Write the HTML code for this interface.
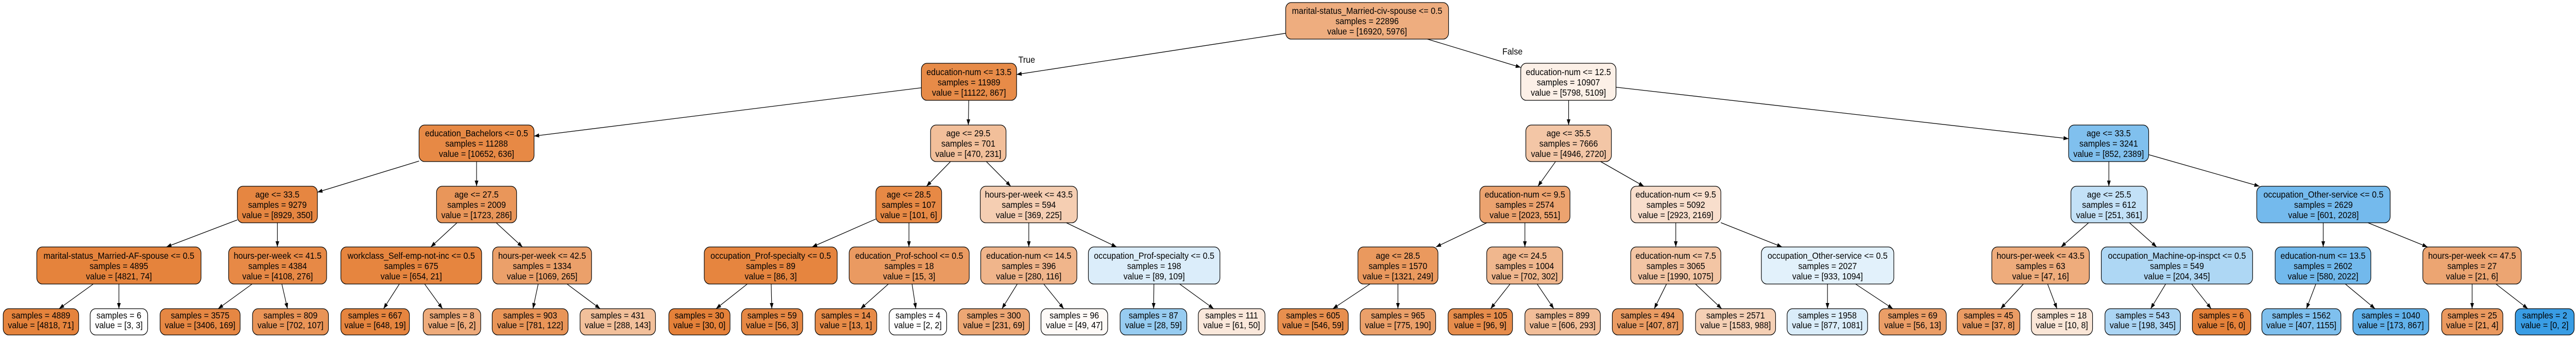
<!DOCTYPE html>
<html><head><meta charset="utf-8"><style>
html,body{margin:0;padding:0;background:#fff;width:100%;height:100%;overflow:hidden;}
svg{display:block;position:fixed;left:0;top:0;width:100vw;height:100vh;}
text{font-family:"Liberation Sans",Arial,sans-serif;font-size:18px;fill:#000;text-anchor:middle;}
rect{stroke:#000;stroke-width:1.3;}
line{stroke:#000;stroke-width:1.3;}
</style></head><body>
<svg viewBox="0 0 5600 655" preserveAspectRatio="none" xmlns="http://www.w3.org/2000/svg">
<defs><marker id="a" markerWidth="12" markerHeight="10" refX="11" refY="4" orient="auto" markerUnits="userSpaceOnUse"><path d="M0,0 L11,4 L0,8 z" fill="#000"/></marker></defs>
<g marker-end="url(#a)">
<line x1="2795" y1="64.7" x2="2210" y2="144.8"/>
<line x1="3103" y1="76" x2="3306" y2="131"/>
<line x1="2003" y1="170.6" x2="1161" y2="264.5"/>
<line x1="2106" y1="195" x2="2105" y2="243"/>
<line x1="3410" y1="195" x2="3410" y2="243"/>
<line x1="3513" y1="169.5" x2="4497" y2="269.6"/>
<line x1="911" y1="313" x2="690" y2="373.6"/>
<line x1="1036" y1="314" x2="1036" y2="362"/>
<line x1="2066.4" y1="314" x2="2014.1" y2="362"/>
<line x1="2144.2" y1="314" x2="2197.3" y2="362"/>
<line x1="3381.7" y1="314" x2="3343.3" y2="362"/>
<line x1="3479.5" y1="314" x2="3573.6" y2="362"/>
<line x1="4584.5" y1="314" x2="4584.5" y2="362"/>
<line x1="4671" y1="300.6" x2="4911.8" y2="362"/>
<line x1="516" y1="427.4" x2="361.7" y2="480"/>
<line x1="603" y1="433" x2="603" y2="480"/>
<line x1="993.5" y1="433" x2="936.5" y2="480"/>
<line x1="1078.7" y1="433" x2="1135.8" y2="480"/>
<line x1="1904" y1="425.7" x2="1765.4" y2="480"/>
<line x1="1976" y1="433" x2="1976" y2="480"/>
<line x1="2236.5" y1="433" x2="2236.5" y2="480"/>
<line x1="2318.1" y1="433" x2="2427.4" y2="480"/>
<line x1="3232.3" y1="433" x2="3121.7" y2="480"/>
<line x1="3315" y1="433" x2="3315" y2="480"/>
<line x1="3643" y1="433" x2="3643" y2="480"/>
<line x1="3741" y1="432.7" x2="3874.1" y2="480"/>
<line x1="4540.4" y1="433" x2="4480.6" y2="480"/>
<line x1="4629.2" y1="433" x2="4688.3" y2="480"/>
<line x1="5050.5" y1="433" x2="5050.5" y2="480"/>
<line x1="5147.8" y1="433" x2="5277.2" y2="480"/>
<line x1="202.8" y1="552" x2="128.5" y2="600"/>
<line x1="258.5" y1="552" x2="258.5" y2="600"/>
<line x1="548.1" y1="552" x2="474.2" y2="600"/>
<line x1="612.7" y1="552" x2="625" y2="600"/>
<line x1="868.2" y1="552" x2="833.8" y2="600"/>
<line x1="923.1" y1="552" x2="961.9" y2="600"/>
<line x1="1170" y1="552" x2="1158.6" y2="600"/>
<line x1="1232.6" y1="552" x2="1304.7" y2="600"/>
<line x1="1624.5" y1="552" x2="1556.6" y2="600"/>
<line x1="1676.5" y1="552" x2="1677.8" y2="600"/>
<line x1="1931.3" y1="552" x2="1871" y2="600"/>
<line x1="1982.7" y1="552" x2="1991" y2="600"/>
<line x1="2211.5" y1="552" x2="2178.2" y2="600"/>
<line x1="2269" y1="552" x2="2312.4" y2="600"/>
<line x1="2508.5" y1="552" x2="2507.8" y2="600"/>
<line x1="2564.4" y1="552" x2="2638.3" y2="600"/>
<line x1="2978.3" y1="552" x2="2897.5" y2="600"/>
<line x1="3039" y1="552" x2="3039" y2="600"/>
<line x1="3282.8" y1="552" x2="3240.5" y2="600"/>
<line x1="3341.6" y1="552" x2="3377.8" y2="600"/>
<line x1="3622.9" y1="552" x2="3596.2" y2="600"/>
<line x1="3685.7" y1="552" x2="3742.7" y2="600"/>
<line x1="3972.8" y1="552" x2="3972.8" y2="600"/>
<line x1="4033.8" y1="552" x2="4114.9" y2="600"/>
<line x1="4398.8" y1="552" x2="4349.3" y2="600"/>
<line x1="4451.3" y1="552" x2="4471.7" y2="600"/>
<line x1="4708" y1="552" x2="4675.4" y2="600"/>
<line x1="4764.4" y1="552" x2="4806.9" y2="600"/>
<line x1="5034.5" y1="552" x2="5014" y2="600"/>
<line x1="5098.5" y1="552" x2="5163.1" y2="600"/>
<line x1="5374.2" y1="552" x2="5374.2" y2="600"/>
<line x1="5426" y1="552" x2="5495.2" y2="600"/>
</g>
<text x="2232" y="122">True</text>
<text x="3288" y="106">False</text>

<rect x="2795" y="5" width="354" height="71" rx="12" fill="#eead7f"/>
<text x="2972" y="27">marital-status_Married-civ-spouse &lt;= 0.5</text><text x="2972" y="47">samples = 22896</text><text x="2972" y="67">value = [16920, 5976]</text>
<rect x="2003" y="123" width="207" height="72" rx="12" fill="#e78b48"/>
<text x="2106.5" y="146">education-num &lt;= 13.5</text><text x="2106.5" y="166">samples = 11989</text><text x="2106.5" y="186">value = [11122, 867]</text>
<rect x="3306" y="123" width="207" height="72" rx="12" fill="#fcf0e7"/>
<text x="3409.5" y="146">education-num &lt;= 12.5</text><text x="3409.5" y="166">samples = 10907</text><text x="3409.5" y="186">value = [5798, 5109]</text>
<rect x="911" y="243" width="250" height="71" rx="12" fill="#e78945"/>
<text x="1036" y="265">education_Bachelors &lt;= 0.5</text><text x="1036" y="285">samples = 11288</text><text x="1036" y="305">value = [10652, 636]</text>
<rect x="2023" y="243" width="164" height="71" rx="12" fill="#f2bf9a"/>
<text x="2105" y="265">age &lt;= 29.5</text><text x="2105" y="285">samples = 701</text><text x="2105" y="305">value = [470, 231]</text>
<rect x="3317" y="243" width="186" height="71" rx="12" fill="#f3c6a6"/>
<text x="3410" y="265">age &lt;= 35.5</text><text x="3410" y="285">samples = 7666</text><text x="3410" y="305">value = [4946, 2720]</text>
<rect x="4497" y="243" width="174" height="71" rx="12" fill="#80c0ee"/>
<text x="4584" y="265">age &lt;= 33.5</text><text x="4584" y="285">samples = 3241</text><text x="4584" y="305">value = [852, 2389]</text>
<rect x="516" y="362" width="174" height="71" rx="12" fill="#e68641"/>
<text x="603" y="384">age &lt;= 33.5</text><text x="603" y="404">samples = 9279</text><text x="603" y="424">value = [8929, 350]</text>
<rect x="949" y="362" width="174" height="71" rx="12" fill="#e9965a"/>
<text x="1036" y="384">age &lt;= 27.5</text><text x="1036" y="404">samples = 2009</text><text x="1036" y="424">value = [1723, 286]</text>
<rect x="1904" y="362" width="143" height="71" rx="12" fill="#e78945"/>
<text x="1975.5" y="384">age &lt;= 28.5</text><text x="1975.5" y="404">samples = 107</text><text x="1975.5" y="424">value = [101, 6]</text>
<rect x="2131" y="362" width="211" height="71" rx="12" fill="#f5ceb2"/>
<text x="2236.5" y="384">hours-per-week &lt;= 43.5</text><text x="2236.5" y="404">samples = 594</text><text x="2236.5" y="424">value = [369, 225]</text>
<rect x="3217" y="362" width="196" height="71" rx="12" fill="#eca36f"/>
<text x="3315" y="384">education-num &lt;= 9.5</text><text x="3315" y="404">samples = 2574</text><text x="3315" y="424">value = [2023, 551]</text>
<rect x="3545" y="362" width="196" height="71" rx="12" fill="#f8decc"/>
<text x="3643" y="384">education-num &lt;= 9.5</text><text x="3643" y="404">samples = 5092</text><text x="3643" y="424">value = [2923, 2169]</text>
<rect x="4502" y="362" width="166" height="71" rx="12" fill="#c3e1f7"/>
<text x="4585" y="384">age &lt;= 25.5</text><text x="4585" y="404">samples = 612</text><text x="4585" y="424">value = [251, 361]</text>
<rect x="4906" y="362" width="290" height="71" rx="12" fill="#74baed"/>
<text x="5051" y="384">occupation_Other-service &lt;= 0.5</text><text x="5051" y="404">samples = 2629</text><text x="5051" y="424">value = [601, 2028]</text>
<rect x="80" y="480" width="357" height="72" rx="12" fill="#e5833c"/>
<text x="258.5" y="503">marital-status_Married-AF-spouse &lt;= 0.5</text><text x="258.5" y="523">samples = 4895</text><text x="258.5" y="543">value = [4821, 74]</text>
<rect x="497" y="480" width="213" height="72" rx="12" fill="#e78946"/>
<text x="603.5" y="503">hours-per-week &lt;= 41.5</text><text x="603.5" y="523">samples = 4384</text><text x="603.5" y="543">value = [4108, 276]</text>
<rect x="741" y="480" width="306" height="72" rx="12" fill="#e6853f"/>
<text x="894" y="503">workclass_Self-emp-not-inc &lt;= 0.5</text><text x="894" y="523">samples = 675</text><text x="894" y="543">value = [654, 21]</text>
<rect x="1071" y="480" width="215" height="72" rx="12" fill="#eba06a"/>
<text x="1178.5" y="503">hours-per-week &lt;= 42.5</text><text x="1178.5" y="523">samples = 1334</text><text x="1178.5" y="543">value = [1069, 265]</text>
<rect x="1531" y="480" width="289" height="72" rx="12" fill="#e6853f"/>
<text x="1675.5" y="503">occupation_Prof-specialty &lt;= 0.5</text><text x="1675.5" y="523">samples = 89</text><text x="1675.5" y="543">value = [86, 3]</text>
<rect x="1846" y="480" width="261" height="72" rx="12" fill="#ea9a61"/>
<text x="1976.5" y="503">education_Prof-school &lt;= 0.5</text><text x="1976.5" y="523">samples = 18</text><text x="1976.5" y="543">value = [15, 3]</text>
<rect x="2132" y="480" width="209" height="72" rx="12" fill="#f0b58b"/>
<text x="2236.5" y="503">education-num &lt;= 14.5</text><text x="2236.5" y="523">samples = 396</text><text x="2236.5" y="543">value = [280, 116]</text>
<rect x="2366" y="480" width="286" height="72" rx="12" fill="#dbedfa"/>
<text x="2509" y="503">occupation_Prof-specialty &lt;= 0.5</text><text x="2509" y="523">samples = 198</text><text x="2509" y="543">value = [89, 109]</text>
<rect x="2952" y="480" width="174" height="72" rx="12" fill="#ea995e"/>
<text x="3039" y="503">age &lt;= 28.5</text><text x="3039" y="523">samples = 1570</text><text x="3039" y="543">value = [1321, 249]</text>
<rect x="3232" y="480" width="165" height="72" rx="12" fill="#f0b78e"/>
<text x="3314.5" y="503">age &lt;= 24.5</text><text x="3314.5" y="523">samples = 1004</text><text x="3314.5" y="543">value = [702, 302]</text>
<rect x="3545" y="480" width="196" height="72" rx="12" fill="#f3c5a4"/>
<text x="3643" y="503">education-num &lt;= 7.5</text><text x="3643" y="523">samples = 3065</text><text x="3643" y="543">value = [1990, 1075]</text>
<rect x="3829" y="480" width="288" height="72" rx="12" fill="#e2f1fb"/>
<text x="3973" y="503">occupation_Other-service &lt;= 0.5</text><text x="3973" y="523">samples = 2027</text><text x="3973" y="543">value = [933, 1094]</text>
<rect x="4330" y="480" width="212" height="72" rx="12" fill="#eeac7c"/>
<text x="4436" y="503">hours-per-week &lt;= 43.5</text><text x="4436" y="523">samples = 63</text><text x="4436" y="543">value = [47, 16]</text>
<rect x="4568" y="480" width="329" height="72" rx="12" fill="#aed7f4"/>
<text x="4732.5" y="503">occupation_Machine-op-inspct &lt;= 0.5</text><text x="4732.5" y="523">samples = 549</text><text x="4732.5" y="543">value = [204, 345]</text>
<rect x="4946" y="480" width="208" height="72" rx="12" fill="#72b9ec"/>
<text x="5050" y="503">education-num &lt;= 13.5</text><text x="5050" y="523">samples = 2602</text><text x="5050" y="543">value = [580, 2022]</text>
<rect x="5267" y="480" width="214" height="72" rx="12" fill="#eca572"/>
<text x="5374" y="503">hours-per-week &lt;= 47.5</text><text x="5374" y="523">samples = 27</text><text x="5374" y="543">value = [21, 6]</text>
<rect x="7" y="600" width="164" height="51" rx="12" fill="#e5833c"/><text x="89" y="619">samples = 4889</text><text x="89" y="638">value = [4818, 71]</text>
<rect x="196" y="600" width="125" height="51" rx="12" fill="#ffffff"/><text x="258.5" y="619">samples = 6</text><text x="258.5" y="638">value = [3, 3]</text>
<rect x="348" y="600" width="174" height="51" rx="12" fill="#e68743"/><text x="435" y="619">samples = 3575</text><text x="435" y="638">value = [3406, 169]</text>
<rect x="549" y="600" width="165" height="51" rx="12" fill="#e99457"/><text x="631.5" y="619">samples = 809</text><text x="631.5" y="638">value = [702, 107]</text>
<rect x="741" y="600" width="149" height="51" rx="12" fill="#e6853f"/><text x="815.5" y="619">samples = 667</text><text x="815.5" y="638">value = [648, 19]</text>
<rect x="920" y="600" width="125" height="51" rx="12" fill="#eeab7b"/><text x="982.5" y="619">samples = 8</text><text x="982.5" y="638">value = [6, 2]</text>
<rect x="1070" y="600" width="165" height="51" rx="12" fill="#e99558"/><text x="1152.5" y="619">samples = 903</text><text x="1152.5" y="638">value = [781, 122]</text>
<rect x="1261" y="600" width="164" height="51" rx="12" fill="#f2c09b"/><text x="1343" y="619">samples = 431</text><text x="1343" y="638">value = [288, 143]</text>
<rect x="1454" y="600" width="133" height="51" rx="12" fill="#e58139"/><text x="1520.5" y="619">samples = 30</text><text x="1520.5" y="638">value = [30, 0]</text>
<rect x="1612" y="600" width="133" height="51" rx="12" fill="#e68844"/><text x="1678.5" y="619">samples = 59</text><text x="1678.5" y="638">value = [56, 3]</text>
<rect x="1772" y="600" width="134" height="51" rx="12" fill="#e78b48"/><text x="1839" y="619">samples = 14</text><text x="1839" y="638">value = [13, 1]</text>
<rect x="1933" y="600" width="125" height="51" rx="12" fill="#ffffff"/><text x="1995.5" y="619">samples = 4</text><text x="1995.5" y="638">value = [2, 2]</text>
<rect x="2083" y="600" width="155" height="51" rx="12" fill="#eda774"/><text x="2160.5" y="619">samples = 300</text><text x="2160.5" y="638">value = [231, 69]</text>
<rect x="2263" y="600" width="145" height="51" rx="12" fill="#fefaf7"/><text x="2335.5" y="619">samples = 96</text><text x="2335.5" y="638">value = [49, 47]</text>
<rect x="2435" y="600" width="145" height="51" rx="12" fill="#97ccf1"/><text x="2507.5" y="619">samples = 87</text><text x="2507.5" y="638">value = [28, 59]</text>
<rect x="2605" y="600" width="145" height="51" rx="12" fill="#fae8db"/><text x="2677.5" y="619">samples = 111</text><text x="2677.5" y="638">value = [61, 50]</text>
<rect x="2778" y="600" width="153" height="51" rx="12" fill="#e88f4e"/><text x="2854.5" y="619">samples = 605</text><text x="2854.5" y="638">value = [546, 59]</text>
<rect x="2957" y="600" width="164" height="51" rx="12" fill="#eba06a"/><text x="3039" y="619">samples = 965</text><text x="3039" y="638">value = [775, 190]</text>
<rect x="3148" y="600" width="140" height="51" rx="12" fill="#e78d4c"/><text x="3218" y="619">samples = 105</text><text x="3218" y="638">value = [96, 9]</text>
<rect x="3315" y="600" width="164" height="51" rx="12" fill="#f2be99"/><text x="3397" y="619">samples = 899</text><text x="3397" y="638">value = [606, 293]</text>
<rect x="3505" y="600" width="154" height="51" rx="12" fill="#eb9c63"/><text x="3582" y="619">samples = 494</text><text x="3582" y="638">value = [407, 87]</text>
<rect x="3686" y="600" width="174" height="51" rx="12" fill="#f5d0b5"/><text x="3773" y="619">samples = 2571</text><text x="3773" y="638">value = [1583, 988]</text>
<rect x="3885" y="600" width="175" height="51" rx="12" fill="#daedfa"/><text x="3972.5" y="619">samples = 1958</text><text x="3972.5" y="638">value = [877, 1081]</text>
<rect x="4085" y="600" width="146" height="51" rx="12" fill="#eb9e67"/><text x="4158" y="619">samples = 69</text><text x="4158" y="638">value = [56, 13]</text>
<rect x="4255" y="600" width="136" height="51" rx="12" fill="#eb9c64"/><text x="4323" y="619">samples = 45</text><text x="4323" y="638">value = [37, 8]</text>
<rect x="4416" y="600" width="133" height="51" rx="12" fill="#fae6d7"/><text x="4482.5" y="619">samples = 18</text><text x="4482.5" y="638">value = [10, 8]</text>
<rect x="4576" y="600" width="164" height="51" rx="12" fill="#abd5f4"/><text x="4658" y="619">samples = 543</text><text x="4658" y="638">value = [198, 345]</text>
<rect x="4766" y="600" width="127" height="51" rx="12" fill="#e58139"/><text x="4829.5" y="619">samples = 6</text><text x="4829.5" y="638">value = [6, 0]</text>
<rect x="4917" y="600" width="172" height="51" rx="12" fill="#7fc0ee"/><text x="5003" y="619">samples = 1562</text><text x="5003" y="638">value = [407, 1155]</text>
<rect x="5115" y="600" width="165" height="51" rx="12" fill="#61b1ea"/><text x="5197.5" y="619">samples = 1040</text><text x="5197.5" y="638">value = [173, 867]</text>
<rect x="5308" y="600" width="133" height="51" rx="12" fill="#ea995f"/><text x="5374.5" y="619">samples = 25</text><text x="5374.5" y="638">value = [21, 4]</text>
<rect x="5468" y="600" width="128" height="51" rx="12" fill="#399de5"/><text x="5532" y="619">samples = 2</text><text x="5532" y="638">value = [0, 2]</text>
</svg>
</body></html>
